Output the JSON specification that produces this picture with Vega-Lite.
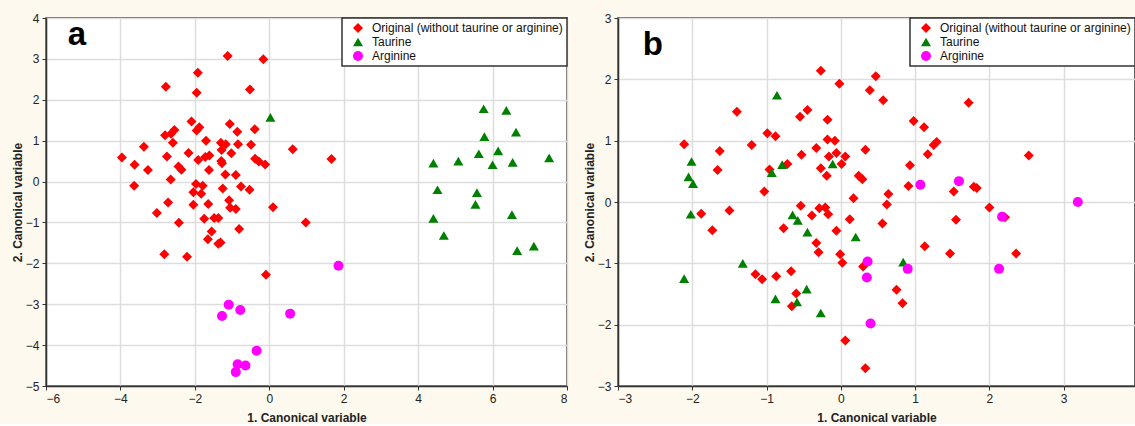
{
  "$schema": "https://vega.github.io/schema/vega-lite/v6.json",
  "background": "#FDF9EF",
  "padding": {"left": 10, "top": 11, "right": 0, "bottom": 0},
  "spacing": 13,
  "config": {
    "font": "Liberation Sans",
    "view": {"stroke": "#333333", "strokeWidth": 1.5, "fill": "white"},
    "axis": {
      "grid": true, "gridColor": "#DDDDDD", "gridWidth": 1.5, "minExtent": 0,
      "domainColor": "#333333", "domainWidth": 1.5, "tickColor": "#333333", "tickSize": 4,
      "labelFont": "Liberation Sans", "labelFontSize": 12, "labelColor": "#222222", "labelPadding": 3,
      "titleFont": "Liberation Sans", "titleFontSize": 12, "titleFontWeight": "bold", "titleColor": "#222222"
    },
    "legend": {
      "orient": "top-right", "offset": 0, "fillColor": "white", "strokeColor": "#333333", "strokeWidth": 1.5,
      "padding": 4, "labelFontSize": 12, "labelFont": "Liberation Sans", "labelColor": "#111111", "labelLimit": 400,
      "symbolSize": 60, "rowPadding": 2, "symbolOffset": 6, "labelOffset": 8, "symbolStrokeWidth": 0
    }
  },
  "datasets": {
    "a": [
      {"g":"Original (without taurine or arginine)","x":-1.12,"y":3.07},{"g":"Original (without taurine or arginine)","x":-0.16,"y":2.99},{"g":"Original (without taurine or arginine)","x":-1.92,"y":2.66},{"g":"Original (without taurine or arginine)","x":-2.78,"y":2.32},{"g":"Original (without taurine or arginine)","x":-1.95,"y":2.17},{"g":"Original (without taurine or arginine)","x":-0.52,"y":2.25},{"g":"Original (without taurine or arginine)","x":-2.09,"y":1.47},{"g":"Original (without taurine or arginine)","x":-1.88,"y":1.33},{"g":"Original (without taurine or arginine)","x":-1.95,"y":1.25},{"g":"Original (without taurine or arginine)","x":-1.06,"y":1.41},{"g":"Original (without taurine or arginine)","x":-0.86,"y":1.22},{"g":"Original (without taurine or arginine)","x":-0.39,"y":1.28},{"g":"Original (without taurine or arginine)","x":-2.55,"y":1.26},{"g":"Original (without taurine or arginine)","x":-2.64,"y":1.17},{"g":"Original (without taurine or arginine)","x":-2.8,"y":1.13},{"g":"Original (without taurine or arginine)","x":-2.59,"y":0.95},{"g":"Original (without taurine or arginine)","x":-1.7,"y":1.0},{"g":"Original (without taurine or arginine)","x":-1.3,"y":0.95},{"g":"Original (without taurine or arginine)","x":-1.17,"y":0.91},{"g":"Original (without taurine or arginine)","x":-0.84,"y":0.91},{"g":"Original (without taurine or arginine)","x":-0.49,"y":0.9},{"g":"Original (without taurine or arginine)","x":-3.37,"y":0.85},{"g":"Original (without taurine or arginine)","x":-2.17,"y":0.7},{"g":"Original (without taurine or arginine)","x":-1.28,"y":0.77},{"g":"Original (without taurine or arginine)","x":-1.02,"y":0.69},{"g":"Original (without taurine or arginine)","x":-2.75,"y":0.61},{"g":"Original (without taurine or arginine)","x":-1.91,"y":0.53},{"g":"Original (without taurine or arginine)","x":-1.72,"y":0.6},{"g":"Original (without taurine or arginine)","x":-1.61,"y":0.64},{"g":"Original (without taurine or arginine)","x":-0.38,"y":0.56},{"g":"Original (without taurine or arginine)","x":-0.28,"y":0.49},{"g":"Original (without taurine or arginine)","x":-0.11,"y":0.42},{"g":"Original (without taurine or arginine)","x":0.63,"y":0.79},{"g":"Original (without taurine or arginine)","x":1.67,"y":0.55},{"g":"Original (without taurine or arginine)","x":-3.62,"y":0.41},{"g":"Original (without taurine or arginine)","x":-3.26,"y":0.28},{"g":"Original (without taurine or arginine)","x":-2.44,"y":0.37},{"g":"Original (without taurine or arginine)","x":-2.36,"y":0.29},{"g":"Original (without taurine or arginine)","x":-1.62,"y":0.28},{"g":"Original (without taurine or arginine)","x":-1.29,"y":0.5},{"g":"Original (without taurine or arginine)","x":-1.27,"y":0.45},{"g":"Original (without taurine or arginine)","x":-2.65,"y":0.05},{"g":"Original (without taurine or arginine)","x":-1.18,"y":0.17},{"g":"Original (without taurine or arginine)","x":-0.9,"y":0.16},{"g":"Original (without taurine or arginine)","x":-3.63,"y":-0.1},{"g":"Original (without taurine or arginine)","x":-1.97,"y":-0.06},{"g":"Original (without taurine or arginine)","x":-1.79,"y":-0.1},{"g":"Original (without taurine or arginine)","x":-2.04,"y":-0.26},{"g":"Original (without taurine or arginine)","x":-1.83,"y":-0.3},{"g":"Original (without taurine or arginine)","x":-1.25,"y":-0.17},{"g":"Original (without taurine or arginine)","x":-0.76,"y":-0.12},{"g":"Original (without taurine or arginine)","x":-0.53,"y":-0.2},{"g":"Original (without taurine or arginine)","x":-2.72,"y":-0.51},{"g":"Original (without taurine or arginine)","x":-2.04,"y":-0.57},{"g":"Original (without taurine or arginine)","x":-1.64,"y":-0.55},{"g":"Original (without taurine or arginine)","x":-1.08,"y":-0.46},{"g":"Original (without taurine or arginine)","x":-1.05,"y":-0.64},{"g":"Original (without taurine or arginine)","x":-0.9,"y":-0.67},{"g":"Original (without taurine or arginine)","x":0.1,"y":-0.63},{"g":"Original (without taurine or arginine)","x":-3.02,"y":-0.77},{"g":"Original (without taurine or arginine)","x":-1.75,"y":-0.91},{"g":"Original (without taurine or arginine)","x":-1.48,"y":-0.89},{"g":"Original (without taurine or arginine)","x":-1.37,"y":-0.89},{"g":"Original (without taurine or arginine)","x":-2.43,"y":-1.01},{"g":"Original (without taurine or arginine)","x":-0.81,"y":-1.16},{"g":"Original (without taurine or arginine)","x":0.98,"y":-1.0},{"g":"Original (without taurine or arginine)","x":-1.55,"y":-1.22},{"g":"Original (without taurine or arginine)","x":-1.65,"y":-1.41},{"g":"Original (without taurine or arginine)","x":-1.37,"y":-1.52},{"g":"Original (without taurine or arginine)","x":-1.31,"y":-1.49},{"g":"Original (without taurine or arginine)","x":-2.82,"y":-1.78},{"g":"Original (without taurine or arginine)","x":-2.21,"y":-1.84},{"g":"Original (without taurine or arginine)","x":-0.09,"y":-2.28},{"g":"Original (without taurine or arginine)","x":-3.96,"y":0.59},
      {"g":"Taurine","x":0.03,"y":1.57},{"g":"Taurine","x":5.76,"y":1.78},{"g":"Taurine","x":6.37,"y":1.74},{"g":"Taurine","x":5.78,"y":1.1},{"g":"Taurine","x":6.63,"y":1.21},{"g":"Taurine","x":5.63,"y":0.68},{"g":"Taurine","x":6.15,"y":0.75},{"g":"Taurine","x":4.41,"y":0.45},{"g":"Taurine","x":5.08,"y":0.5},{"g":"Taurine","x":6.0,"y":0.41},{"g":"Taurine","x":6.54,"y":0.47},{"g":"Taurine","x":7.52,"y":0.58},{"g":"Taurine","x":4.52,"y":-0.2},{"g":"Taurine","x":5.58,"y":-0.27},{"g":"Taurine","x":5.54,"y":-0.56},{"g":"Taurine","x":4.41,"y":-0.9},{"g":"Taurine","x":6.52,"y":-0.81},{"g":"Taurine","x":4.69,"y":-1.32},{"g":"Taurine","x":6.66,"y":-1.69},{"g":"Taurine","x":7.11,"y":-1.58},
      {"g":"Arginine","x":-1.09,"y":-3.01},{"g":"Arginine","x":-1.27,"y":-3.29},{"g":"Arginine","x":-0.78,"y":-3.14},{"g":"Arginine","x":-0.34,"y":-4.14},{"g":"Arginine","x":-0.85,"y":-4.47},{"g":"Arginine","x":-0.64,"y":-4.5},{"g":"Arginine","x":-0.9,"y":-4.66},{"g":"Arginine","x":0.56,"y":-3.23},{"g":"Arginine","x":1.86,"y":-2.06}
    ],
    "b": [
      {"g":"Original (without taurine or arginine)","x":-0.27,"y":2.14},{"g":"Original (without taurine or arginine)","x":0.47,"y":2.05},{"g":"Original (without taurine or arginine)","x":-0.02,"y":1.93},{"g":"Original (without taurine or arginine)","x":0.39,"y":1.82},{"g":"Original (without taurine or arginine)","x":0.57,"y":1.66},{"g":"Original (without taurine or arginine)","x":-1.4,"y":1.47},{"g":"Original (without taurine or arginine)","x":-0.45,"y":1.5},{"g":"Original (without taurine or arginine)","x":-0.55,"y":1.39},{"g":"Original (without taurine or arginine)","x":-0.18,"y":1.34},{"g":"Original (without taurine or arginine)","x":-0.99,"y":1.12},{"g":"Original (without taurine or arginine)","x":-0.88,"y":1.07},{"g":"Original (without taurine or arginine)","x":-2.11,"y":0.94},{"g":"Original (without taurine or arginine)","x":-0.18,"y":1.02},{"g":"Original (without taurine or arginine)","x":-0.08,"y":1.0},{"g":"Original (without taurine or arginine)","x":-1.2,"y":0.93},{"g":"Original (without taurine or arginine)","x":-1.63,"y":0.83},{"g":"Original (without taurine or arginine)","x":-0.33,"y":0.88},{"g":"Original (without taurine or arginine)","x":-0.53,"y":0.77},{"g":"Original (without taurine or arginine)","x":-0.06,"y":0.8},{"g":"Original (without taurine or arginine)","x":-0.16,"y":0.74},{"g":"Original (without taurine or arginine)","x":0.06,"y":0.74},{"g":"Original (without taurine or arginine)","x":0.33,"y":0.85},{"g":"Original (without taurine or arginine)","x":0.01,"y":0.62},{"g":"Original (without taurine or arginine)","x":-1.66,"y":0.52},{"g":"Original (without taurine or arginine)","x":-0.96,"y":0.53},{"g":"Original (without taurine or arginine)","x":-0.72,"y":0.62},{"g":"Original (without taurine or arginine)","x":-0.27,"y":0.55},{"g":"Original (without taurine or arginine)","x":-0.19,"y":0.43},{"g":"Original (without taurine or arginine)","x":0.24,"y":0.43},{"g":"Original (without taurine or arginine)","x":0.29,"y":0.37},{"g":"Original (without taurine or arginine)","x":-1.03,"y":0.17},{"g":"Original (without taurine or arginine)","x":0.17,"y":0.06},{"g":"Original (without taurine or arginine)","x":0.64,"y":0.13},{"g":"Original (without taurine or arginine)","x":0.62,"y":-0.04},{"g":"Original (without taurine or arginine)","x":-0.54,"y":-0.06},{"g":"Original (without taurine or arginine)","x":-1.88,"y":-0.19},{"g":"Original (without taurine or arginine)","x":-1.5,"y":-0.14},{"g":"Original (without taurine or arginine)","x":-0.39,"y":-0.22},{"g":"Original (without taurine or arginine)","x":-0.29,"y":-0.1},{"g":"Original (without taurine or arginine)","x":-0.21,"y":-0.09},{"g":"Original (without taurine or arginine)","x":-0.17,"y":-0.2},{"g":"Original (without taurine or arginine)","x":0.12,"y":-0.28},{"g":"Original (without taurine or arginine)","x":0.56,"y":-0.35},{"g":"Original (without taurine or arginine)","x":-1.73,"y":-0.46},{"g":"Original (without taurine or arginine)","x":-0.77,"y":-0.43},{"g":"Original (without taurine or arginine)","x":-0.06,"y":-0.47},{"g":"Original (without taurine or arginine)","x":-0.33,"y":-0.67},{"g":"Original (without taurine or arginine)","x":-0.3,"y":-0.82},{"g":"Original (without taurine or arginine)","x":-0.01,"y":-0.85},{"g":"Original (without taurine or arginine)","x":0.02,"y":-0.99},{"g":"Original (without taurine or arginine)","x":0.3,"y":-1.05},{"g":"Original (without taurine or arginine)","x":-1.15,"y":-1.18},{"g":"Original (without taurine or arginine)","x":-1.06,"y":-1.26},{"g":"Original (without taurine or arginine)","x":-0.87,"y":-1.21},{"g":"Original (without taurine or arginine)","x":-0.67,"y":-1.13},{"g":"Original (without taurine or arginine)","x":-0.6,"y":-1.49},{"g":"Original (without taurine or arginine)","x":-0.66,"y":-1.7},{"g":"Original (without taurine or arginine)","x":0.06,"y":-2.26},{"g":"Original (without taurine or arginine)","x":0.33,"y":-2.71},{"g":"Original (without taurine or arginine)","x":1.72,"y":1.62},{"g":"Original (without taurine or arginine)","x":0.98,"y":1.32},{"g":"Original (without taurine or arginine)","x":1.12,"y":1.22},{"g":"Original (without taurine or arginine)","x":1.25,"y":0.93},{"g":"Original (without taurine or arginine)","x":1.29,"y":0.98},{"g":"Original (without taurine or arginine)","x":1.17,"y":0.78},{"g":"Original (without taurine or arginine)","x":2.53,"y":0.76},{"g":"Original (without taurine or arginine)","x":0.93,"y":0.6},{"g":"Original (without taurine or arginine)","x":0.91,"y":0.26},{"g":"Original (without taurine or arginine)","x":1.52,"y":0.17},{"g":"Original (without taurine or arginine)","x":1.79,"y":0.25},{"g":"Original (without taurine or arginine)","x":1.83,"y":0.23},{"g":"Original (without taurine or arginine)","x":2.0,"y":-0.09},{"g":"Original (without taurine or arginine)","x":2.21,"y":-0.25},{"g":"Original (without taurine or arginine)","x":1.55,"y":-0.29},{"g":"Original (without taurine or arginine)","x":1.13,"y":-0.72},{"g":"Original (without taurine or arginine)","x":1.47,"y":-0.84},{"g":"Original (without taurine or arginine)","x":2.36,"y":-0.84},{"g":"Original (without taurine or arginine)","x":0.75,"y":-1.43},{"g":"Original (without taurine or arginine)","x":0.83,"y":-1.65},
      {"g":"Taurine","x":-0.86,"y":1.74},{"g":"Taurine","x":-2.01,"y":0.66},{"g":"Taurine","x":-2.05,"y":0.41},{"g":"Taurine","x":-1.99,"y":0.3},{"g":"Taurine","x":-0.93,"y":0.48},{"g":"Taurine","x":-0.79,"y":0.61},{"g":"Taurine","x":-0.11,"y":0.62},{"g":"Taurine","x":-2.02,"y":-0.2},{"g":"Taurine","x":-0.65,"y":-0.21},{"g":"Taurine","x":-0.58,"y":-0.3},{"g":"Taurine","x":-0.45,"y":-0.49},{"g":"Taurine","x":0.2,"y":-0.57},{"g":"Taurine","x":-1.32,"y":-1.0},{"g":"Taurine","x":-2.11,"y":-1.25},{"g":"Taurine","x":-0.46,"y":-1.42},{"g":"Taurine","x":-0.88,"y":-1.58},{"g":"Taurine","x":-0.59,"y":-1.63},{"g":"Taurine","x":-0.27,"y":-1.81},{"g":"Taurine","x":0.84,"y":-0.98},
      {"g":"Arginine","x":0.36,"y":-0.97},{"g":"Arginine","x":0.35,"y":-1.23},{"g":"Arginine","x":0.4,"y":-1.98},{"g":"Arginine","x":1.07,"y":0.28},{"g":"Arginine","x":1.59,"y":0.34},{"g":"Arginine","x":3.19,"y":0.0},{"g":"Arginine","x":2.17,"y":-0.24},{"g":"Arginine","x":0.9,"y":-1.09},{"g":"Arginine","x":2.13,"y":-1.09}
    ],
    "la": [{"t":"a","x":-5.17,"y":3.33}],
    "lb": [{"t":"b","x":-2.53,"y":2.39}]
  },
  "resolve": {"scale": {"color": "independent", "shape": "independent", "size": "independent"}},
  "hconcat": [
    {
      "width": 521, "height": 368,
      "layer": [
        {
          "data": {"name": "a"},
          "mark": {"type": "point", "filled": true, "opacity": 1},
          "encoding": {
            "x": {"field": "x", "type": "quantitative", "scale": {"domain": [-6, 8], "nice": false, "zero": false}, "axis": {"values": [-6,-4,-2,0,2,4,6,8], "format": "d", "title": "1. Canonical variable", "titlePadding": 8}},
            "y": {"field": "y", "type": "quantitative", "scale": {"domain": [-5, 4], "nice": false, "zero": false}, "axis": {"values": [-5,-4,-3,-2,-1,0,1,2,3,4], "format": "d", "title": "2. Canonical variable", "titlePadding": 1}},
            "color": {"field": "g", "type": "nominal", "scale": {"domain": ["Original (without taurine or arginine)","Taurine","Arginine"], "range": ["#FF0000","#008000","#FF00FF"]}, "legend": {"title": null}},
            "shape": {"field": "g", "type": "nominal", "scale": {"domain": ["Original (without taurine or arginine)","Taurine","Arginine"], "range": ["diamond","triangle-up","circle"]}, "legend": {"title": null}},
            "size": {"field": "g", "type": "nominal", "scale": {"domain": ["Original (without taurine or arginine)","Taurine","Arginine"], "range": [100, 100, 120]}, "legend": null}
          }
        },
        {
          "data": {"name": "la"},
          "mark": {"type": "text", "fontSize": 33, "fontWeight": "bold", "font": "Liberation Sans", "align": "center", "baseline": "alphabetic", "color": "black"},
          "encoding": {
            "x": {"field": "x", "type": "quantitative"},
            "y": {"field": "y", "type": "quantitative"},
            "text": {"field": "t"}
          }
        }
      ]
    },
    {
      "width": 517, "height": 368,
      "layer": [
        {
          "data": {"name": "b"},
          "mark": {"type": "point", "filled": true, "opacity": 1},
          "encoding": {
            "x": {"field": "x", "type": "quantitative", "scale": {"domain": [-3, 3.96], "nice": false, "zero": false}, "axis": {"values": [-3,-2,-1,0,1,2,3], "format": "d", "title": "1. Canonical variable", "titlePadding": 8}},
            "y": {"field": "y", "type": "quantitative", "scale": {"domain": [-3, 3], "nice": false, "zero": false}, "axis": {"values": [-3,-2,-1,0,1,2,3], "format": "d", "title": "2. Canonical variable", "titlePadding": 1}},
            "color": {"field": "g", "type": "nominal", "scale": {"domain": ["Original (without taurine or arginine)","Taurine","Arginine"], "range": ["#FF0000","#008000","#FF00FF"]}, "legend": {"title": null}},
            "shape": {"field": "g", "type": "nominal", "scale": {"domain": ["Original (without taurine or arginine)","Taurine","Arginine"], "range": ["diamond","triangle-up","circle"]}, "legend": {"title": null}},
            "size": {"field": "g", "type": "nominal", "scale": {"domain": ["Original (without taurine or arginine)","Taurine","Arginine"], "range": [100, 100, 120]}, "legend": null}
          }
        },
        {
          "data": {"name": "lb"},
          "mark": {"type": "text", "fontSize": 33, "fontWeight": "bold", "font": "Liberation Sans", "align": "center", "baseline": "alphabetic", "color": "black"},
          "encoding": {
            "x": {"field": "x", "type": "quantitative"},
            "y": {"field": "y", "type": "quantitative"},
            "text": {"field": "t"}
          }
        }
      ]
    }
  ]
}
